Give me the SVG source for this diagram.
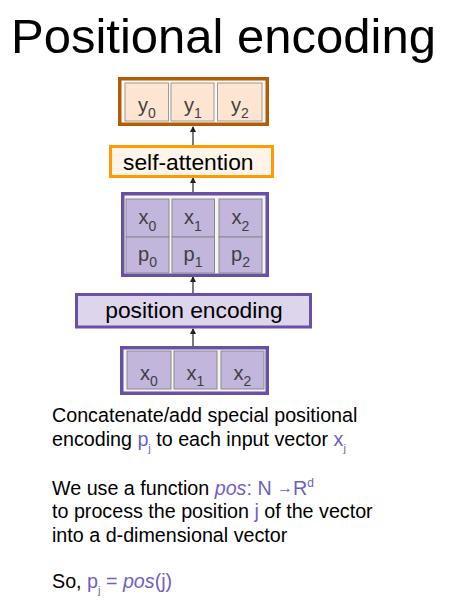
<svg xmlns="http://www.w3.org/2000/svg" width="453" height="603" viewBox="0 0 453 603">
<defs>
<marker id="ah" markerWidth="6" markerHeight="6" refX="5" refY="3" orient="auto" markerUnits="userSpaceOnUse">
<path d="M0,0 L6,3 L0,6 z" fill="#222"/>
</marker>
<style>
.t{font-family:"Liberation Sans",Arial,sans-serif;}
.cell{font-family:"Liberation Sans",Arial,sans-serif;font-size:20px;fill:#404040;text-anchor:middle;}
.ycell{fill:#fde5d2;stroke:#9a9a9a;stroke-width:1;}
.pcell{fill:#c2b6dc;stroke:#8a8a8a;stroke-width:1;}
.pbox{fill:#f4f4f4;stroke:#6a4fa8;stroke-width:3.5;}
.body{font-family:"Liberation Sans",Arial,sans-serif;font-size:19.7px;fill:#000;}
.pu{fill:#6f5fc4;}
.arr{stroke:#222;stroke-width:1.2;fill:none;marker-end:url(#ah);}
</style>
</defs>
<rect width="453" height="603" fill="#fff"/>
<text class="t" x="11" y="53" font-size="49" fill="#000">Positional encoding</text>

<g id="connectors">
<line class="arr" x1="193" y1="145" x2="193" y2="127"/>
<line class="arr" x1="193" y1="192" x2="193" y2="178"/>
<line class="arr" x1="193" y1="293" x2="193" y2="277"/>
<line class="arr" x1="193" y1="346" x2="193" y2="329"/>
</g>

<g id="output">
<rect x="119.75" y="78.75" width="147.5" height="45.5" fill="#fbf7f3" stroke="#b35c05" stroke-width="3.5"/>
<rect class="ycell" x="125" y="83" width="43.5" height="38"/>
<rect class="ycell" x="171" y="83" width="43" height="38"/>
<rect class="ycell" x="217.5" y="83" width="44.5" height="38"/>
<text class="cell" x="147" y="112">y<tspan font-size="14" dy="6">0</tspan></text>
<text class="cell" x="193" y="112">y<tspan font-size="14" dy="6">1</tspan></text>
<text class="cell" x="240" y="112">y<tspan font-size="14" dy="6">2</tspan></text>
</g>

<g id="self-attention">
<rect x="110.5" y="146.5" width="162" height="30" fill="#fef4e8" stroke="#ff9a00" stroke-width="3"/>
<text class="t" x="123" y="170" font-size="22.8" fill="#000">self-attention</text>
</g>

<g id="concat">
<rect class="pbox" x="122.75" y="193.75" width="144.5" height="81.5"/>
<rect class="pcell" x="126" y="199" width="43" height="38"/>
<rect class="pcell" x="172" y="199" width="42.5" height="38"/>
<rect class="pcell" x="219" y="199" width="43" height="38"/>
<rect class="pcell" x="126" y="237" width="43" height="36"/>
<rect class="pcell" x="172" y="237" width="42.5" height="36"/>
<rect class="pcell" x="219" y="237" width="43" height="36"/>
<text class="cell" x="147.5" y="224">x<tspan font-size="14" dy="7">0</tspan></text>
<text class="cell" x="193" y="224">x<tspan font-size="14" dy="7">1</tspan></text>
<text class="cell" x="240.5" y="224">x<tspan font-size="14" dy="7">2</tspan></text>
<text class="cell" x="147.5" y="261">p<tspan font-size="14" dy="6">0</tspan></text>
<text class="cell" x="193" y="261">p<tspan font-size="14" dy="6">1</tspan></text>
<text class="cell" x="240.5" y="261">p<tspan font-size="14" dy="6">2</tspan></text>
</g>

<g id="position-encoding">
<rect x="76.5" y="294.5" width="234" height="32.5" fill="#dcd5ec" stroke="#6a4fa8" stroke-width="3"/>
<text class="t" x="194" y="318" font-size="22.8" fill="#000" text-anchor="middle">position encoding</text>
</g>

<g id="input">
<rect class="pbox" x="121.75" y="347.75" width="145.5" height="45.5"/>
<rect class="pcell" x="127" y="351" width="44" height="38"/>
<rect class="pcell" x="174" y="351" width="43" height="38"/>
<rect class="pcell" x="221" y="351" width="43" height="38"/>
<text class="cell" x="149" y="380">x<tspan font-size="14" dy="6">0</tspan></text>
<text class="cell" x="195.5" y="380">x<tspan font-size="14" dy="6">1</tspan></text>
<text class="cell" x="242.5" y="380">x<tspan font-size="14" dy="6">2</tspan></text>
</g>

<g id="description">
<text class="body" x="52" y="422">Concatenate/add special positional</text>
<text class="body" x="52" y="446">encoding <tspan class="pu">p</tspan><tspan class="pu" font-size="11" dy="6">j</tspan><tspan dy="-6"> to each input vector </tspan><tspan class="pu">x</tspan><tspan class="pu" font-size="11" dy="6">j</tspan></text>
<text class="body" x="52" y="495">We use a function <tspan class="pu" font-style="italic">pos</tspan><tspan class="pu">: N </tspan><tspan class="pu" font-size="16" dy="-2">→</tspan><tspan class="pu" dy="2">R</tspan><tspan class="pu" font-size="12" dy="-8">d</tspan></text>
<text class="body" x="52" y="518">to process the position <tspan class="pu">j</tspan> of the vector</text>
<text class="body" x="52" y="542">into a d-dimensional vector</text>
<text class="body" x="52" y="588">So, <tspan class="pu">p</tspan><tspan class="pu" font-size="11" dy="6">j</tspan><tspan class="pu" dy="-6"> = </tspan><tspan class="pu" font-style="italic">pos</tspan><tspan class="pu">(j)</tspan></text>
</g>
</svg>
